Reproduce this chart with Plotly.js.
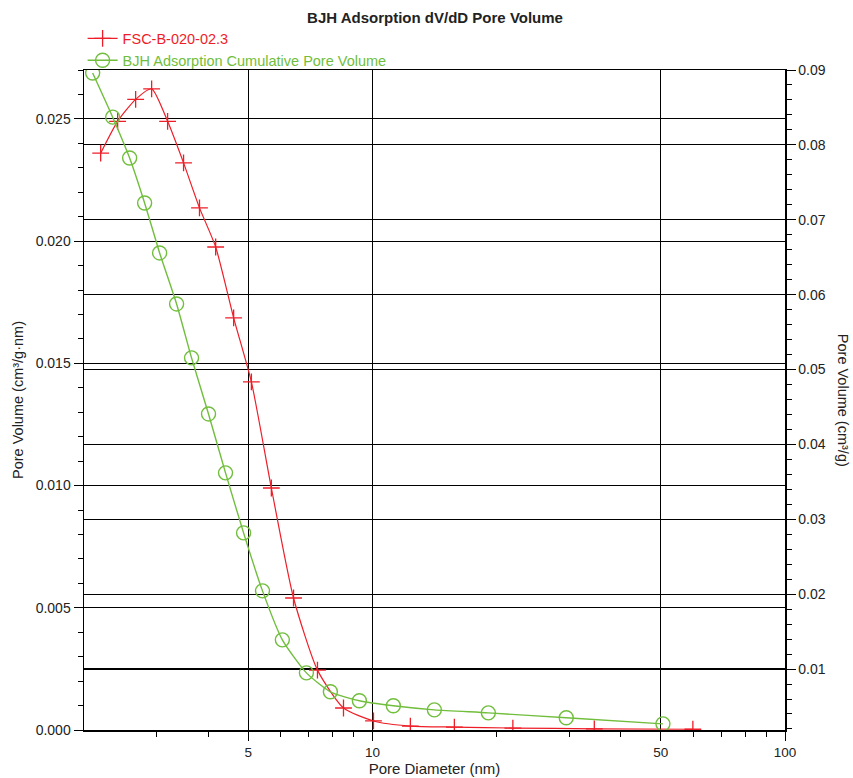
<!DOCTYPE html>
<html>
<head>
<meta charset="utf-8">
<script src="https://cdn.plot.ly/plotly-3.0.1.min.js"></script>
<style>html,body{margin:0;padding:0;background:#fff;}#chart{width:853px;height:778px;}</style>
</head>
<body>
<div id="chart"></div>
<script>
// dV/dD pore volume (left axis)
const dvddDiameter = [2.195, 2.413, 2.668, 2.917, 3.189, 3.486, 3.81, 4.17, 4.61, 5.09, 5.69, 6.44, 7.36, 8.51, 10.06, 12.36, 15.8, 21.9, 34.5, 59.8];
const dvddValue = [0.0236, 0.0249, 0.0258, 0.02623, 0.0249, 0.0232, 0.02136, 0.01976, 0.01686, 0.01424, 0.0099, 0.0054, 0.00245, 0.0009, 0.00037, 0.00016, 0.00012, 0.00008, 0.00005, 0.00003];
// cumulative pore volume (right axis)
const cumDiameter = [2.099, 2.347, 2.58, 2.805, 3.05, 3.353, 3.645, 4.007, 4.406, 4.873, 5.416, 6.05, 6.92, 7.91, 9.30, 11.24, 14.13, 19.1, 29.5, 50.6];
const cumValue = [0.0896, 0.0837, 0.07825, 0.07224, 0.06557, 0.05876, 0.05155, 0.04407, 0.0362, 0.02818, 0.02044, 0.0139, 0.00949, 0.00696, 0.00576, 0.00509, 0.00455, 0.00415, 0.00349, 0.00268];
const xMajorTicks = [5, 10, 50, 100];
const xMinorTicks = [3, 4, 6, 7, 8, 9, 20, 30, 40, 60, 70, 80, 90];

const FONT = 'Liberation Sans, Arial, sans-serif';
const RED = 'rgb(238,30,40)';
const GREEN = 'rgb(112,190,60)';

const traces = [
  {
    x: dvddDiameter, y: dvddValue, type: 'scatter', mode: 'lines+markers',
    name: '<span style="color:' + RED + '">FSC-B-020-02.3</span>', yaxis: 'y',
    line: {color: RED, width: 1.2, shape: 'spline', smoothing: 0.6},
    marker: {symbol: 'cross-thin-open', size: 12, color: RED, line: {color: RED, width: 1.3}}
  },
  {
    x: cumDiameter, y: cumValue, type: 'scatter', mode: 'lines+markers',
    name: '<span style="color:' + GREEN + '">BJH Adsorption Cumulative Pore Volume</span>', yaxis: 'y2',
    line: {color: GREEN, width: 1.4, shape: 'spline', smoothing: 0.6},
    marker: {symbol: 'circle-open', size: 14, color: GREEN, line: {color: GREEN, width: 1.4}}
  }
];

const layout = {
  width: 853, height: 778,
  margin: {l: 84, r: 68, t: 70, b: 48},
  paper_bgcolor: '#fff', plot_bgcolor: '#fff',
  font: {family: FONT, size: 14, color: '#222'},
  title: {text: '<b>BJH Adsorption dV/dD Pore Volume</b>', x: 0.51, xanchor: 'center', y: 0.977, yanchor: 'middle', font: {family: FONT, size: 15, color: '#222'}},
  showlegend: true,
  legend: {x: -0.002, y: 1.072, xanchor: 'left', yanchor: 'top', bgcolor: 'rgba(0,0,0,0)', font: {family: FONT, size: 14.5}, tracegroupgap: 0, itemwidth: 30},
  xaxis: {
    type: 'log', range: [Math.log10(2), 2],
    tickmode: 'array', tickvals: xMajorTicks, ticktext: xMajorTicks.map(String),
    ticks: 'outside', ticklen: 9, tickcolor: '#000', tickwidth: 1,
    showgrid: true, gridcolor: '#000', gridwidth: 1.2,
    showline: true, linecolor: '#000', linewidth: 1.5, mirror: true,
    zeroline: false,
    minor: {tickmode: 'array', tickvals: xMinorTicks, ticks: 'outside', ticklen: 5, tickcolor: '#000', showgrid: false},
    tickfont: {family: FONT, size: 13.5, color: '#222'},
    title: {text: 'Pore Diameter (nm)', standoff: 4, font: {family: FONT, size: 15, color: '#222'}}
  },
  yaxis: {
    range: [0, 0.027], tick0: 0, dtick: 0.005, tickformat: '.3f',
    ticks: 'outside', ticklen: 9, tickcolor: '#000',
    showgrid: true, gridcolor: '#000', gridwidth: 1.2,
    showline: true, linecolor: '#000', linewidth: 1.5,
    zeroline: false,
    minor: {dtick: 0.001, ticks: 'outside', ticklen: 5, tickcolor: '#000', showgrid: false},
    tickfont: {family: FONT, size: 14, color: '#222'},
    title: {text: 'Pore Volume (cm³/g·nm)', standoff: 8, font: {family: FONT, size: 14.5, color: '#222'}}
  },
  yaxis2: {
    overlaying: 'y', side: 'right',
    range: [0.00186, 0.09], tick0: 0, dtick: 0.01, tickformat: '.2f',
    ticks: 'outside', ticklen: 9, tickcolor: '#000',
    showgrid: true, gridcolor: '#000', gridwidth: 1.2,
    showline: true, linecolor: '#000', linewidth: 1.5,
    zeroline: false,
    minor: {dtick: 0.002, tick0: 0, ticks: 'outside', ticklen: 5, tickcolor: '#000', showgrid: false},
    tickfont: {family: FONT, size: 14, color: '#222'}
  },
  annotations: [{
    text: 'Pore Volume (cm³/g)', xref: 'paper', yref: 'paper', x: 1.083, y: 0.5,
    xanchor: 'center', yanchor: 'middle', textangle: 90, showarrow: false,
    font: {family: FONT, size: 14.5, color: '#222'}
  }]
};

Plotly.newPlot('chart', traces, layout, {displayModeBar: false, staticPlot: true});
</script>
</body>
</html>
